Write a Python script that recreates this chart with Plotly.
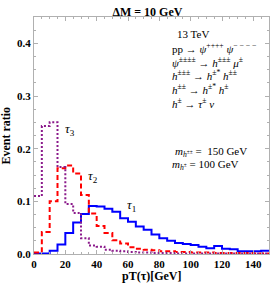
import plotly.graph_objects as go

bin_edges = list(range(0, 155, 5))

tau1 = [0.001, 0.001, 0.006, 0.018, 0.040, 0.060, 0.076, 0.091, 0.090, 0.086,
        0.080, 0.068, 0.061, 0.052, 0.046, 0.037, 0.030, 0.025, 0.021, 0.019,
        0.017, 0.014, 0.011, 0.015, 0.010, 0.009, 0.005, 0.005, 0.005, 0.006]
tau2 = [0.003, 0.042, 0.100, 0.163, 0.168, 0.153, 0.112, 0.077, 0.053, 0.040,
        0.026, 0.020, 0.013, 0.010, 0.008, 0.007, 0.005, 0.005, 0.004, 0.004,
        0.003, 0.003, 0.003, 0.002, 0.002, 0.002, 0.002, 0.002, 0.001, 0.001]
tau3 = [0.110, 0.243, 0.250, 0.165, 0.095, 0.078, 0.030, 0.016, 0.014, 0.008,
        0.006, 0.005, 0.004, 0.003, 0.003, 0.002, 0.002, 0.002, 0.001, 0.001,
        0.001, 0.001, 0.001, 0.001, 0.001, 0.001, 0.001, 0.001, 0.001, 0.001]

x_ticks = [0, 20, 40, 60, 80, 100, 120, 140]
y_ticks = [0.0, 0.1, 0.2, 0.3, 0.4]

serif = "Liberation Serif"


def step_xy(vals):
    xs = bin_edges[:-1] + [bin_edges[-1]]
    ys = list(vals) + [vals[-1]]
    return xs, ys


fig = go.Figure()
for vals, color, dash in [(tau1, "#0000ff", "solid"),
                          (tau2, "#ff0000", "5px,3px"),
                          (tau3, "#8b1a8b", "2px,2px")]:
    xs, ys = step_xy(vals)
    fig.add_trace(go.Scatter(x=xs, y=ys, mode="lines", line_shape="hv",
                             line=dict(color=color, width=2, dash=dash),
                             showlegend=False, hoverinfo="skip"))

axis_common = dict(showline=True, linecolor="#b0b0b0", linewidth=1, mirror="allticks",
                   ticks="inside", ticklen=4, tickcolor="#b0b0b0", showgrid=False,
                   zeroline=False,
                   tickfont=dict(family=serif, size=11, color="black", weight="bold"))

fig.update_xaxes(range=[0, 150], tickvals=x_ticks,
                 minor=dict(dtick=5, ticks="inside", ticklen=2, tickcolor="#b0b0b0"),
                 **axis_common)
fig.update_yaxes(range=[0, 0.45], tickvals=y_ticks, tickformat=".1f",
                 minor=dict(dtick=0.025, ticks="inside", ticklen=2, tickcolor="#b0b0b0"),
                 **axis_common)

title_font = dict(family=serif, size=12, color="black", weight="bold")
fig.add_annotation(x=0.5, y=-0.093, xref="paper", yref="paper", text="pT(τ)[GeV]",
                   showarrow=False, xanchor="center", yanchor="middle", font=title_font)
fig.add_annotation(x=-0.123, y=0.5, xref="paper", yref="paper", text="Event ratio",
                   showarrow=False, xanchor="center", yanchor="middle", textangle=-90,
                   font=title_font)

tfont = dict(family=serif, size=11, color="black")
lines = [
    (0.600, 0.928, "13 TeV"),
    (0.579, 0.869, "pp → <i>ψ</i><sup>++++</sup> <i>ψ</i><sup>− − − −</sup>"),
    (0.579, 0.810, "<i>ψ</i><sup>±±±±</sup> → <i>h</i><sup>±±±</sup> <i>μ</i><sup>±</sup>"),
    (0.579, 0.755, "<i>h</i><sup>±±±</sup> → <i>h</i><sup>±*</sup> <i>h</i><sup>±±</sup>"),
    (0.579, 0.696, "<i>h</i><sup>±±</sup> → <i>h</i><sup>±*</sup> <i>h</i><sup>±</sup>"),
    (0.579, 0.637, "<i>h</i><sup>±</sup> → <i>τ</i><sup>±</sup> <i>ν</i>"),
    (0.590, 0.430, "<i>m</i><sub><i>h</i><sup>±±</sup></sub> =  150 GeV"),
    (0.579, 0.375, "<i>m</i><sub><i>h</i><sup>±</sup></sub> = 100 GeV"),
]
for x, y, t in lines:
    fig.add_annotation(x=x, y=y, xref="paper", yref="paper", text=t, showarrow=False,
                       xanchor="left", yanchor="middle", font=tfont)

labels = [(0.155, 0.527, "<i>τ</i><sub>3</sub>"),
          (0.251, 0.325, "<i>τ</i><sub>2</sub>"),
          (0.413, 0.203, "<i>τ</i><sub>1</sub>")]
for x, y, t in labels:
    fig.add_annotation(x=x, y=y, xref="paper", yref="paper", text=t, showarrow=False,
                       xanchor="center", yanchor="middle",
                       font=dict(family=serif, size=13, color="black"))

fig.update_layout(
    width=273, height=286,
    margin=dict(l=34, r=4, t=17, b=32),
    paper_bgcolor="white", plot_bgcolor="white",
    hovermode=False,
    title=dict(text="ΔM = 10 GeV", x=0.54, xanchor="center", y=0.975, yanchor="top",
               font=title_font),
)

fig.write_html("out.html", config={"displayModeBar": False},
               post_script="document.body.style.margin='0';document.body.style.overflow='hidden';")
